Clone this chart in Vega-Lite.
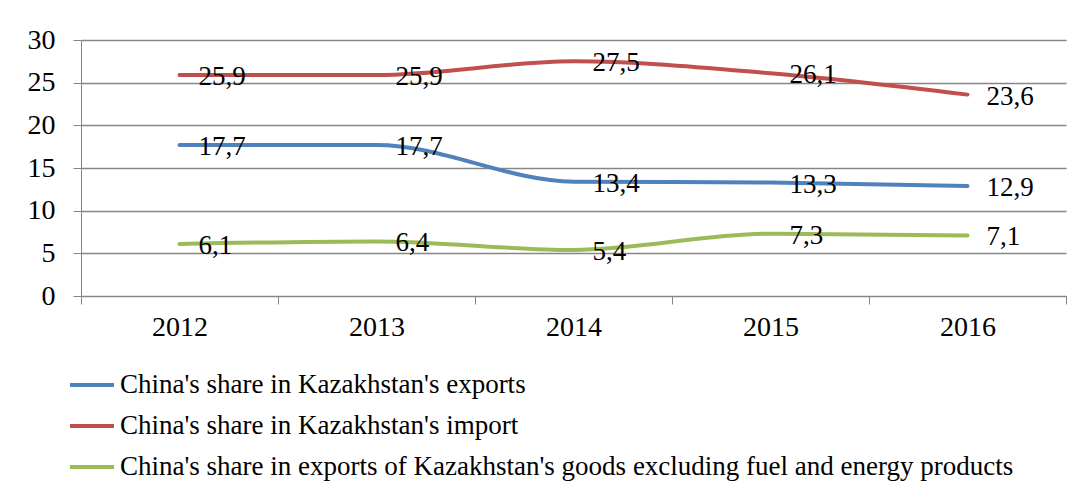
{
  "$schema": "https://vega.github.io/schema/vega-lite/v6.json",
  "width": 985,
  "height": 256,
  "autosize": "none",
  "padding": {"left": 81, "top": 40, "right": 12, "bottom": 197},
  "background": "white",
  "config": {
    "font": "Liberation Serif, serif",
    "view": {"stroke": null},
    "locale": {"number": {"decimal": ",", "thousands": " ", "grouping": [3], "currency": ["", ""]}}
  },
  "data": {
    "values": [
      {"year": "2012", "series": "China's share in Kazakhstan's exports", "value": 17.7},
      {"year": "2013", "series": "China's share in Kazakhstan's exports", "value": 17.7},
      {"year": "2014", "series": "China's share in Kazakhstan's exports", "value": 13.4},
      {"year": "2015", "series": "China's share in Kazakhstan's exports", "value": 13.3},
      {"year": "2016", "series": "China's share in Kazakhstan's exports", "value": 12.9},
      {"year": "2012", "series": "China's share in Kazakhstan's import", "value": 25.9},
      {"year": "2013", "series": "China's share in Kazakhstan's import", "value": 25.9},
      {"year": "2014", "series": "China's share in Kazakhstan's import", "value": 27.5},
      {"year": "2015", "series": "China's share in Kazakhstan's import", "value": 26.1},
      {"year": "2016", "series": "China's share in Kazakhstan's import", "value": 23.6},
      {"year": "2012", "series": "China's share in exports of Kazakhstan's goods excluding fuel and energy products", "value": 6.1},
      {"year": "2013", "series": "China's share in exports of Kazakhstan's goods excluding fuel and energy products", "value": 6.4},
      {"year": "2014", "series": "China's share in exports of Kazakhstan's goods excluding fuel and energy products", "value": 5.4},
      {"year": "2015", "series": "China's share in exports of Kazakhstan's goods excluding fuel and energy products", "value": 7.3},
      {"year": "2016", "series": "China's share in exports of Kazakhstan's goods excluding fuel and energy products", "value": 7.1}
    ]
  },
  "encoding": {
    "x": {
      "field": "year", "type": "ordinal", "title": null,
      "scale": {"paddingInner": 0, "paddingOuter": 0},
      "axis": {
        "labelAngle": 0, "labelFontSize": 28, "labelColor": "black",
        "domainColor": "#868686", "tickColor": "#868686", "tickSize": 8,
        "tickBand": "extent", "labelPadding": 9, "grid": false
      }
    },
    "y": {
      "field": "value", "type": "quantitative", "title": null,
      "scale": {"domain": [0, 30], "nice": false},
      "axis": {
        "values": [0, 5, 10, 15, 20, 25, 30], "labelFontSize": 28, "labelColor": "black",
        "domain": true, "domainColor": "#868686", "tickColor": "#868686", "tickSize": 8,
        "gridColor": "#868686", "gridWidth": 1.5, "labelPadding": 18
      }
    }
  },
  "layer": [
    {
      "mark": {"type": "line", "interpolate": "monotone", "strokeWidth": 4, "strokeCap": "round"},
      "encoding": {
        "color": {
          "field": "series", "type": "nominal",
          "sort": ["China's share in Kazakhstan's exports", "China's share in Kazakhstan's import", "China's share in exports of Kazakhstan's goods excluding fuel and energy products"],
          "scale": {
            "domain": ["China's share in Kazakhstan's exports", "China's share in Kazakhstan's import", "China's share in exports of Kazakhstan's goods excluding fuel and energy products"],
            "range": ["#4F81BD", "#C0504D", "#9BBB59"]
          },
          "legend": {
            "title": null, "orient": "none", "legendX": -13, "legendY": 321,
            "direction": "vertical", "symbolType": "stroke", "symbolStrokeWidth": 4,
            "symbolSize": 1936, "labelFontSize": 27, "labelColor": "black",
            "labelLimit": 1000, "rowPadding": 4, "labelOffset": 4
          }
        }
      }
    },
    {
      "mark": {"type": "text", "align": "left", "baseline": "middle", "dx": 19, "dy": 2, "fontSize": 27, "color": "black"},
      "encoding": {
        "text": {"field": "value", "type": "quantitative", "format": ".1f"},
        "detail": {"field": "series"}
      }
    }
  ]
}
